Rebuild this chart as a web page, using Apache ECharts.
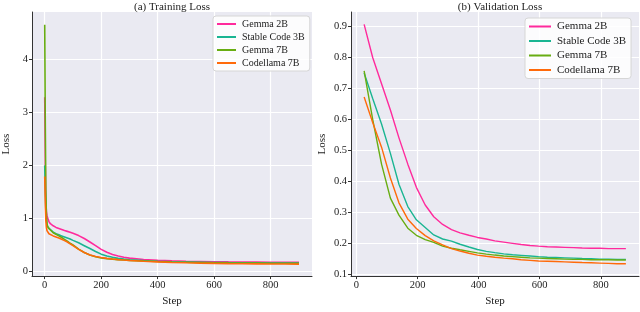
<!DOCTYPE html>
<html><head><meta charset="utf-8">
<script src="https://cdn.jsdelivr.net/npm/echarts@6/dist/echarts.min.js"></script>
<style>html,body{margin:0;padding:0;background:#fff}#c{width:640px;height:312px}</style>
</head><body><div id="c"></div>
<script>
const seriesNames = ['Gemma 2B', 'Stable Code 3B', 'Gemma 7B', 'Codellama 7B'];
const colors = ['#ff2a9c', '#1ab592', '#68ad12', '#ff6a0a'];

// (a) Training loss
const trainSteps = [0, 2, 4, 6, 8, 10, 15, 20, 30, 40, 50, 60, 70, 80, 90, 100, 120, 140, 160, 180, 200, 220, 240, 260, 280, 300, 350, 400, 450, 500, 550, 600, 650, 700, 750, 800, 850, 900];
const trainGemma2B = [3.28, 2.0, 1.3, 1.12, 1.05, 1.0, 0.93, 0.89, 0.85, 0.82, 0.80, 0.78, 0.76, 0.745, 0.73, 0.71, 0.665, 0.61, 0.545, 0.475, 0.405, 0.35, 0.31, 0.28, 0.255, 0.24, 0.215, 0.2, 0.19, 0.182, 0.177, 0.172, 0.168, 0.166, 0.164, 0.162, 0.16, 0.16];
const trainStable3B = [1.99, 1.5, 1.1, 0.95, 0.88, 0.84, 0.8, 0.77, 0.73, 0.7, 0.68, 0.66, 0.64, 0.62, 0.60, 0.575, 0.53, 0.475, 0.42, 0.365, 0.315, 0.28, 0.255, 0.235, 0.22, 0.21, 0.192, 0.18, 0.172, 0.166, 0.161, 0.157, 0.154, 0.152, 0.15, 0.148, 0.147, 0.146];
const trainGemma7B = [4.65, 2.8, 1.5, 1.05, 0.9, 0.84, 0.8, 0.77, 0.72, 0.69, 0.66, 0.63, 0.595, 0.56, 0.52, 0.49, 0.41, 0.345, 0.3, 0.265, 0.243, 0.23, 0.22, 0.212, 0.205, 0.198, 0.185, 0.175, 0.167, 0.161, 0.156, 0.152, 0.149, 0.147, 0.145, 0.143, 0.142, 0.141];
const trainCodellama7B = [1.78, 1.3, 0.95, 0.82, 0.76, 0.73, 0.7, 0.68, 0.66, 0.64, 0.62, 0.595, 0.57, 0.545, 0.51, 0.475, 0.405, 0.345, 0.3, 0.27, 0.25, 0.235, 0.222, 0.212, 0.203, 0.195, 0.18, 0.168, 0.158, 0.151, 0.145, 0.14, 0.136, 0.133, 0.131, 0.129, 0.128, 0.127];

// (b) Validation loss
const valSteps = [25, 53, 82, 111, 139, 168, 196, 225, 253, 282, 311, 339, 368, 396, 425, 453, 482, 511, 539, 568, 596, 625, 653, 682, 711, 739, 768, 796, 825, 853, 882];
const valGemma2B = [0.907, 0.80, 0.715, 0.63, 0.54, 0.455, 0.38, 0.323, 0.285, 0.26, 0.243, 0.233, 0.225, 0.218, 0.213, 0.207, 0.203, 0.199, 0.195, 0.192, 0.19, 0.188, 0.187, 0.186, 0.185, 0.184, 0.183, 0.183, 0.182, 0.182, 0.182];
const valStable3B = [0.75, 0.667, 0.585, 0.49, 0.39, 0.318, 0.275, 0.25, 0.226, 0.213, 0.206, 0.196, 0.187, 0.179, 0.173, 0.169, 0.165, 0.162, 0.16, 0.158, 0.156, 0.154, 0.153, 0.152, 0.151, 0.15, 0.149, 0.148, 0.148, 0.147, 0.147];
const valGemma7B = [0.757, 0.60, 0.455, 0.345, 0.29, 0.248, 0.225, 0.211, 0.202, 0.19, 0.183, 0.178, 0.173, 0.168, 0.164, 0.161, 0.158, 0.156, 0.154, 0.152, 0.151, 0.15, 0.149, 0.148, 0.147, 0.147, 0.146, 0.146, 0.146, 0.145, 0.145];
const valCodellama7B = [0.672, 0.59, 0.51, 0.41, 0.33, 0.277, 0.247, 0.224, 0.207, 0.194, 0.182, 0.174, 0.167, 0.161, 0.157, 0.154, 0.151, 0.149, 0.146, 0.144, 0.142, 0.141, 0.14, 0.139, 0.138, 0.137, 0.136, 0.135, 0.134, 0.133, 0.133];

const xTicks = [0, 200, 400, 600, 800];
const trainYTicks = [0, 1, 2, 3, 4];
const valYTicks = [0.1, 0.2, 0.3, 0.4, 0.5, 0.6, 0.7, 0.8, 0.9];

const FONT = '"Liberation Serif", "DejaVu Serif", serif';
const trainData = [trainGemma2B, trainStable3B, trainGemma7B, trainCodellama7B];
const valData = [valGemma2B, valStable3B, valGemma7B, valCodellama7B];

function xAxis(gridIndex, min, max) {
  return {
    type: 'value', gridIndex, min, max,
    name: 'Step', nameLocation: 'middle', nameGap: 15,
    nameTextStyle: { fontFamily: FONT, fontSize: 11, color: '#222' },
    axisLine: { show: true, onZero: false, lineStyle: { color: '#333', width: 1 } },
    axisTick: { show: true, length: 3, customValues: xTicks, lineStyle: { color: '#333' } },
    axisLabel: { customValues: xTicks, fontFamily: FONT, fontSize: 10.5, color: '#222', margin: 4 },
    splitLine: { show: true, lineStyle: { color: '#fff', width: 1.2 } }
  };
}
function yAxis(gridIndex, min, max, ticks, fmt) {
  return {
    type: 'value', gridIndex, min, max,
    name: 'Loss', nameLocation: 'middle', nameGap: gridIndex === 0 ? 20 : 23,
    nameTextStyle: { fontFamily: FONT, fontSize: 11, color: '#222' },
    axisLine: { show: true, onZero: false, lineStyle: { color: '#333', width: 1 } },
    axisTick: { show: true, length: 3, customValues: ticks, lineStyle: { color: '#333' } },
    axisLabel: { customValues: ticks, fontFamily: FONT, fontSize: 10.5, color: '#222', margin: 4, formatter: fmt },
    splitLine: { show: true, lineStyle: { color: '#fff', width: 1.2 } }
  };
}

const series = [];
seriesNames.forEach((n, i) => {
  series.push({
    name: n, type: 'line', xAxisIndex: 0, yAxisIndex: 0, showSymbol: false,
    lineStyle: { color: colors[i], width: 1.6 }, itemStyle: { color: colors[i] },
    data: trainSteps.map((s, k) => [s, trainData[i][k]]), z: 2 + (i === 3 ? 1 : 0)
  });
});
seriesNames.forEach((n, i) => {
  series.push({
    name: n, type: 'line', xAxisIndex: 1, yAxisIndex: 1, showSymbol: false,
    lineStyle: { color: colors[i], width: 1.4 }, itemStyle: { color: colors[i] },
    data: valSteps.map((s, k) => [s, valData[i][k]])
  });
});

function legend(left, top, fs, gap, w) {
  return {
    data: seriesNames, left, top, orient: 'vertical',
    backgroundColor: 'rgba(255,255,255,0.85)', borderColor: '#d6d6d6', borderWidth: 1, borderRadius: 3,
    padding: [3, 5, 3, 4], itemGap: gap, itemWidth: w, itemHeight: 2, icon: 'rect',
    textStyle: { fontFamily: FONT, fontSize: fs, color: '#222', padding: [0, 0, 0, 1] },
    selectedMode: false
  };
}

const chart = echarts.init(document.getElementById('c'), null, { renderer: 'canvas' });
chart.setOption({
  animation: false,
  backgroundColor: '#fff',
  title: [
    { text: '(a) Training Loss', left: 167, top: -3, textAlign: 'center', textStyle: { fontFamily: FONT, fontSize: 11, fontWeight: 'normal', color: '#222' } },
    { text: '(b) Validation Loss', left: 495, top: -3, textAlign: 'center', textStyle: { fontFamily: FONT, fontSize: 11, fontWeight: 'normal', color: '#222' } }
  ],
  grid: [
    { left: 23, right: 328, top: 12, bottom: 28, show: true, backgroundColor: '#eaeaf2', borderWidth: 0 },
    { left: 351, right: 1, top: 12, bottom: 28, show: true, backgroundColor: '#eaeaf2', borderWidth: 0 }
  ],
  xAxis: [xAxis(0, -45, 946), xAxis(1, -18, 925)],
  yAxis: [
    yAxis(0, -0.1, 4.89, trainYTicks, v => String(v)),
    yAxis(1, 0.093, 0.947, valYTicks, v => v.toFixed(1))
  ],
  legend: [legend(213, 16, 10, 3, 19), legend(525, 18, 11, 3.5, 22)],
  series
});
</script></body></html>
